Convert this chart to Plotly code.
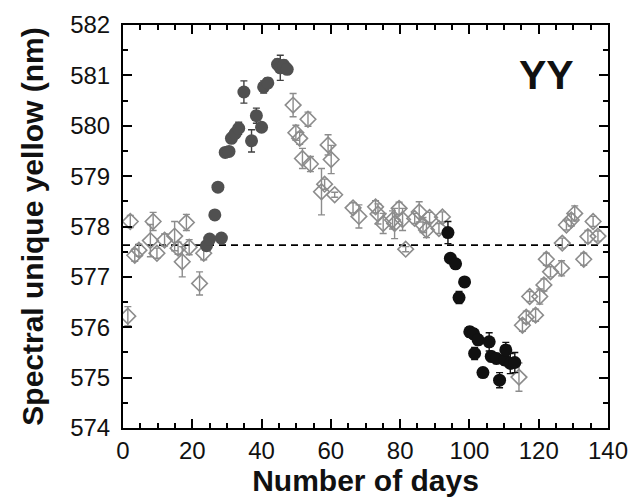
import plotly.graph_objects as go

# Open diamonds (baseline / recovery periods)
days_open = [1.4, 2.1, 3.4, 4.6, 7.9, 8.7, 9.8, 12.0, 14.9, 15.9, 17.1, 18.3, 19.1, 22.1, 23.3,
             49.1, 49.9, 51.0, 51.8, 53.4, 54.1, 57.3, 58.2, 59.2, 60.1, 61.1, 66.4, 68.1, 72.9,
             73.6, 75.1, 77.8, 78.4, 79.7, 80.7, 81.6, 84.2, 85.5, 86.6, 87.6, 88.5, 91.2, 92.2,
             114.3, 115.3, 116.4, 117.4, 119.1, 120.3, 121.5, 122.2, 123.4, 126.6, 126.8, 128.0,
             129.4, 130.4, 133.0, 134.2, 135.7, 137.1]
yellow_open = [576.22, 578.10, 577.43, 577.53, 577.72, 578.10, 577.47, 577.73, 577.81, 577.57, 577.30,
               578.08, 577.59, 576.87, 577.47,
               580.41, 579.86, 579.75, 579.35, 580.13, 579.24, 578.69, 578.84, 579.62, 579.33, 578.63,
               578.37, 578.20, 578.39, 578.25, 578.06, 578.13, 578.06, 578.36, 578.14, 577.55, 578.16,
               578.29, 578.03, 577.93, 578.18, 577.96, 578.19,
               575.01, 576.04, 576.20, 576.61, 576.24, 576.61, 576.84, 577.35, 577.10, 577.17, 577.67,
               578.03, 578.13, 578.26, 577.35, 577.80, 578.10, 577.81]
err_open = [0.19, 0.12, 0.12, 0.12, 0.32, 0.18, 0.1, 0.12, 0.29, 0.12, 0.3, 0.16, 0.15, 0.23, 0.13,
            0.23, 0.15, 0.12, 0.2, 0.14, 0.15, 0.46, 0.1, 0.2, 0.28, 0.05, 0.1, 0.23, 0.12,
            0.2, 0.2, 0.18, 0.3, 0.12, 0.22, 0.05, 0.1, 0.2, 0.15, 0.15, 0.1, 0.1, 0.1,
            0.28, 0.12, 0.12, 0.1, 0.12, 0.15, 0.12, 0.12, 0.1, 0.15, 0.1, 0.1,
            0.12, 0.15, 0.12, 0.12, 0.1, 0.1]

# Grey filled circles (shift towards longer wavelengths)
days_grey = [24.1, 25.0, 26.5, 27.4, 28.4, 29.5, 30.6, 31.3, 32.4, 33.4, 34.9, 37.1, 38.5, 40.0,
             40.6, 41.8, 44.6, 45.4, 46.4, 47.4]
yellow_grey = [577.62, 577.75, 578.23, 578.78, 577.77, 579.47, 579.49, 579.75, 579.85, 579.95, 580.67,
               579.70, 580.20, 579.97, 580.77, 580.85, 581.22, 581.15, 581.20, 581.12]
err_grey = [0.08, 0.08, 0.08, 0.08, 0.08, 0.08, 0.08, 0.1, 0.1, 0.12, 0.22, 0.22, 0.15, 0.08,
            0.12, 0.1, 0.1, 0.25, 0.1, 0.1]

# Black filled circles (shift towards shorter wavelengths)
days_black = [93.8, 94.5, 96.0, 97.0, 98.6, 100.1, 101.2, 101.5, 102.5, 103.9, 105.7, 106.3, 107.8,
              108.7, 110.2, 110.5, 111.8, 113.1]
yellow_black = [577.88, 577.37, 577.26, 576.59, 576.90, 575.91, 575.87, 575.48, 575.75, 575.10, 575.71,
                575.42, 575.38, 574.95, 575.35, 575.55, 575.28, 575.30]
err_black = [0.22, 0.08, 0.08, 0.12, 0.08, 0.1, 0.1, 0.12, 0.1, 0.08, 0.18, 0.1, 0.1, 0.15, 0.1,
             0.15, 0.2, 0.2]

baseline_days = [0, 140]
baseline_value = [577.63, 577.63]

x_ticks = [0, 20, 40, 60, 80, 100, 120, 140]
y_ticks = [574, 575, 576, 577, 578, 579, 580, 581, 582]

FONT = "Liberation Sans, Arial, Helvetica"

fig = go.Figure()

fig.add_trace(go.Scatter(x=baseline_days, y=baseline_value, mode="lines",
                         line=dict(color="black", width=1.6, dash="7px,5px"),
                         hoverinfo="skip", showlegend=False))

fig.add_trace(go.Scatter(
    x=days_open, y=yellow_open, mode="markers",
    marker=dict(symbol="diamond-open", size=12, color="#8c8c8c", line=dict(width=1.6, color="#8c8c8c")),
    error_y=dict(type="data", array=err_open, color="#8c8c8c", thickness=1.4, width=3.5),
    showlegend=False))

fig.add_trace(go.Scatter(
    x=days_grey, y=yellow_grey, mode="markers",
    marker=dict(symbol="circle", size=13, color="#505050", line=dict(width=0)),
    error_y=dict(type="data", array=err_grey, color="#404040", thickness=1.4, width=3.5),
    showlegend=False))

fig.add_trace(go.Scatter(
    x=days_black, y=yellow_black, mode="markers",
    marker=dict(symbol="circle", size=13, color="#111111", line=dict(width=0)),
    error_y=dict(type="data", array=err_black, color="#111111", thickness=1.4, width=3.5),
    showlegend=False))

fig.add_annotation(x=0.874, y=0.876, xref="paper", yref="paper", xanchor="center", yanchor="middle",
                   text="<b>YY</b>", showarrow=False,
                   font=dict(family=FONT, size=41, color="#111111"))

axis_common = dict(showline=True, linecolor="black", linewidth=2, mirror="ticks",
                   ticks="inside", ticklen=9, tickwidth=2, tickcolor="black",
                   showgrid=False, zeroline=False, automargin=False,
                   tickfont=dict(family=FONT, size=24, color="#111111"))

fig.update_xaxes(range=[0, 140], tickvals=x_ticks, ticktext=[str(v) for v in x_ticks],
                 minor=dict(dtick=5, tick0=0, ticks="inside", ticklen=5, tickwidth=1.5, tickcolor="black"),
                 title=dict(text="Number of days", standoff=6,
                            font=dict(family=FONT, size=30, color="#111111", weight="bold")),
                 **axis_common)
fig.update_yaxes(range=[574, 582], tickvals=y_ticks, ticktext=[str(v) for v in y_ticks],
                 ticklabelstandoff=6,
                 minor=dict(dtick=0.5, tick0=574, ticks="inside", ticklen=5, tickwidth=1.5, tickcolor="black"),
                 title=dict(text="Spectral unique yellow (nm)", standoff=18,
                            font=dict(family=FONT, size=30, color="#111111", weight="bold")),
                 **axis_common)

fig.update_layout(width=639, height=502, margin=dict(l=115, r=39, t=17, b=82),
                  plot_bgcolor="white", paper_bgcolor="white")

fig.write_html("out.html")
